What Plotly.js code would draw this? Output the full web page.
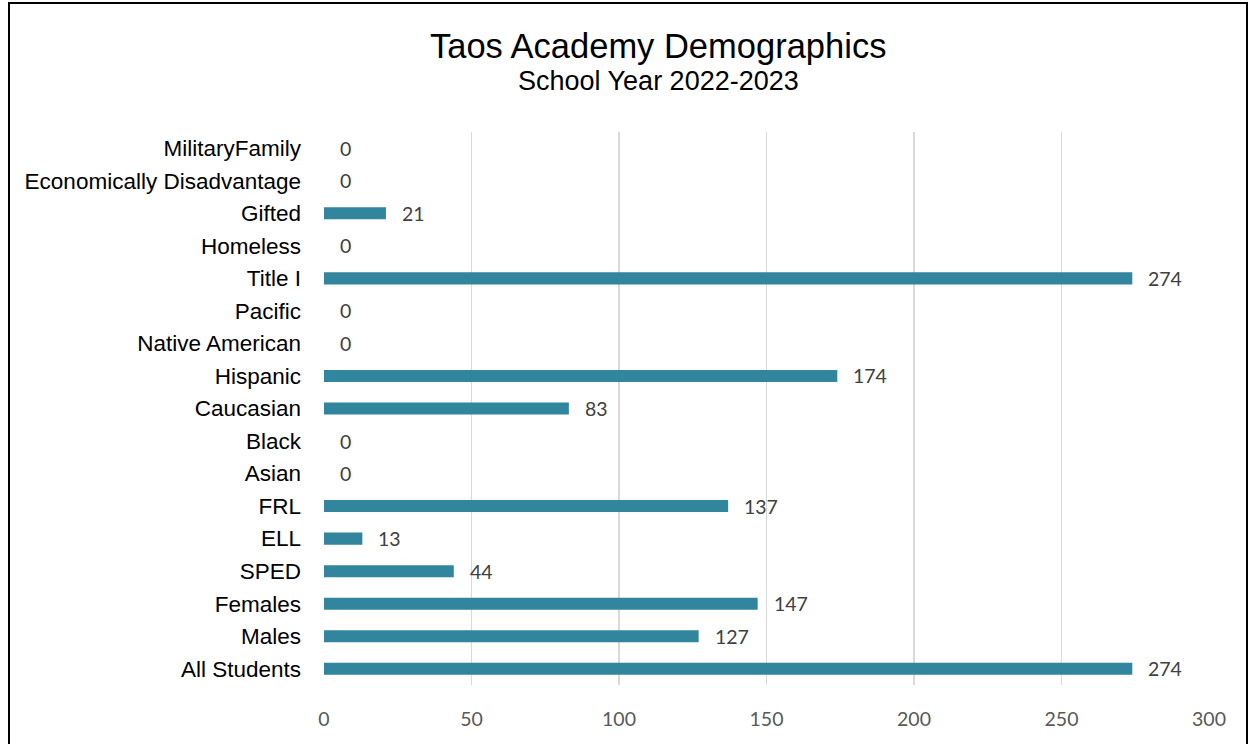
<!DOCTYPE html>
<html>
<head>
<meta charset="utf-8">
<script src="https://cdn.plot.ly/plotly-3.0.1.min.js"></script>
<style>
html,body{margin:0;padding:0;background:#fff;}
#wrap{position:relative;width:1254px;height:744px;overflow:hidden;}
#chart{position:absolute;left:0;top:0;width:1254px;height:744px;}
#frame{position:absolute;left:8px;top:2px;width:1236px;height:800px;border:2px solid #000;pointer-events:none;}
</style>
</head>
<body>
<div id="wrap"><div id="chart"></div><div id="frame"></div></div>
<script>
const categories = ["All Students","Males","Females","SPED","ELL","FRL","Asian","Black","Caucasian","Hispanic","Native American","Pacific","Title I","Homeless","Gifted","Economically Disadvantage","MilitaryFamily"];
const values = [274,127,147,44,13,137,0,0,83,174,0,0,274,0,21,0,0];
const xTicks = [0,50,100,150,200,250,300];
const chartTitle = "Taos Academy Demographics";
const chartSubtitle = "School Year 2022-2023";

const annotations = categories.map((c,i)=>({
  x: values[i], y: c, xref:'x', yref:'y', text: String(values[i]),
  showarrow:false, xanchor:'left', xshift:14,
  font:{family:'Lato, "Open Sans", sans-serif', size:19.5, color:'#404040'}
}));
annotations.push({
  text: chartTitle, xref:'paper', yref:'paper', x:0.3775, y:1, xanchor:'center', yanchor:'middle',
  yshift: 132-46, showarrow:false,
  font:{family:'"Liberation Sans", Arial, sans-serif', size:34.5, color:'#000'}
});
annotations.push({
  text: chartSubtitle, xref:'paper', yref:'paper', x:0.3775, y:1, xanchor:'center', yanchor:'middle',
  yshift: 132-81, showarrow:false,
  font:{family:'"Liberation Sans", Arial, sans-serif', size:27, color:'#000'}
});

const trace = {
  type:'bar', orientation:'h', x: values, y: categories,
  marker:{color:'#31859C'}, hoverinfo:'none'
};

const layout = {
  width:1254, height:744,
  paper_bgcolor:'#fff', plot_bgcolor:'#fff',
  margin:{l:324, r:45, t:132, b:59},
  bargap:0.63,
  showlegend:false,
  xaxis:{
    range:[0,300], tickvals:xTicks, ticktext:xTicks.map(String),
    showgrid:true, gridcolor:'#d9d9d9', gridwidth:1.5,
    zeroline:false, showline:false, ticks:'',
    tickfont:{family:'Lato, "Open Sans", sans-serif', size:19.5, color:'#595959'},
    ticklabelstandoff:20, fixedrange:true
  },
  yaxis:{
    type:'category', categoryorder:'array', categoryarray:categories,
    showgrid:false, zeroline:false, showline:false, ticks:'',
    tickfont:{family:'"Liberation Sans", Arial, sans-serif', size:22.5, color:'#000'},
    ticklabelstandoff:22, automargin:false, fixedrange:true
  },
  annotations: annotations
};

Plotly.newPlot('chart',[trace],layout,{displayModeBar:false,staticPlot:true});
</script>
</body>
</html>
